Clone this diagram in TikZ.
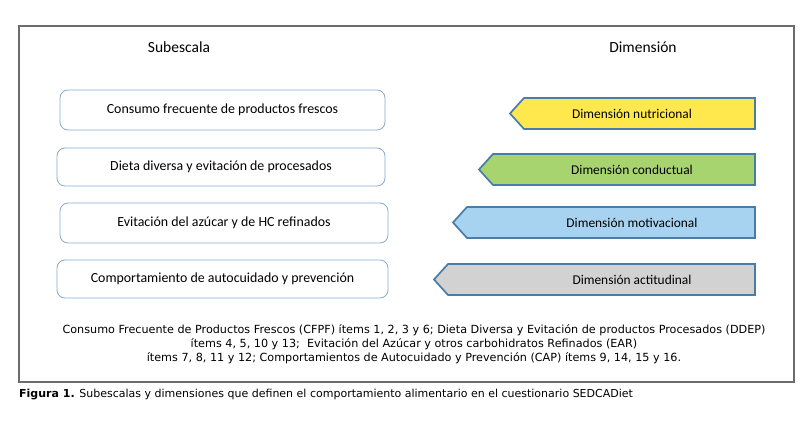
\documentclass[tikz,border=0pt]{standalone}
\usepackage{fontspec}
\setmainfont{Carlito}
\newfontfamily\notefont{DejaVu Sans}
\definecolor{dimyellow}{HTML}{FFE84E}
\definecolor{dimgreen}{HTML}{A8D470}
\definecolor{dimblue}{HTML}{A7D3F1}
\definecolor{dimgray}{HTML}{D2D2D2}
\definecolor{dimedge}{HTML}{4A7DA6}
\definecolor{subedge}{HTML}{86ADD3}

\begin{document}
\begin{tikzpicture}[x=1pt,y=-1pt,
  subbox/.style={draw=subedge, line width=.8pt, rounded corners=8pt, font=\fontsize{13.9}{16}\selectfont},
  dimarrow/.style={draw=dimedge, line width=1.7pt, line join=miter},
  dimtext/.style={font=\fontsize{13.4}{16}\selectfont},
  head/.style={font=\fontsize{15.5}{18}\selectfont},
  notes/.style={align=center, font=\notefont\fontsize{11.2}{14}\selectfont}]
\useasboundingbox (0,0) rectangle (812,425);
\fill[white] (0,0) rectangle (812,425);

% cadre
\draw[gray!85!black, line width=1.2pt] (19,26) rectangle (794,382);

\node[head] (subhead) at (179,47) {Subescala};
\node[head] (dimhead) at (643,47) {Dimensión};

% subescalas
\node[subbox, minimum width=325pt, minimum height=40pt] (sub1) at (222.5,110) {Consumo frecuente de productos frescos};
\node[subbox, minimum width=328pt, minimum height=38pt] (sub2) at (221,167) {Dieta diversa y evitación de procesados};
\node[subbox, minimum width=328pt, minimum height=40pt] (sub3) at (224,223) {Evitación del azúcar y de HC refinados};
\node[subbox, minimum width=331pt, minimum height=38pt] (sub4) at (222.5,279) {Comportamiento de autocuidado y prevención};

% dimensiones
\foreach \n/\tip/\yt/\col/\txt in {1/510/98/dimyellow/nutricional, 2/479/154/dimgreen/conductual, 3/453/207/dimblue/motivacional, 4/434/264/dimgray/actitudinal} {
	\draw[dimarrow, fill=\col] (\tip,\yt+15.5) -- (\tip+14,\yt) -- (755,\yt) -- (755,\yt+31) -- (\tip+14,\yt+31) -- cycle;
	\node[dimtext] (dim\n) at (632,\yt+15.5) {Dimensión \txt};
}

\node[notes] (items) at (414,344.5) {Consumo Frecuente de Productos Frescos (CFPF) ítems 1, 2, 3 y 6; Dieta Diversa y Evitación de productos Procesados (DDEP)\\
ítems 4, 5, 10 y 13;\ \ Evitación del Azúcar y otros carbohidratos Refinados (EAR)\\
ítems 7, 8, 11 y 12; Comportamientos de Autocuidado y Prevención (CAP) ítems 9, 14, 15 y 16.};

\node[anchor=west, inner sep=0pt, font=\notefont\fontsize{11}{13}\selectfont] (caption) at (19,395) {\textbf{Figura 1.} Subescalas y dimensiones que definen el comportamiento alimentario en el cuestionario SEDCADiet};

\end{tikzpicture}
\end{document}
